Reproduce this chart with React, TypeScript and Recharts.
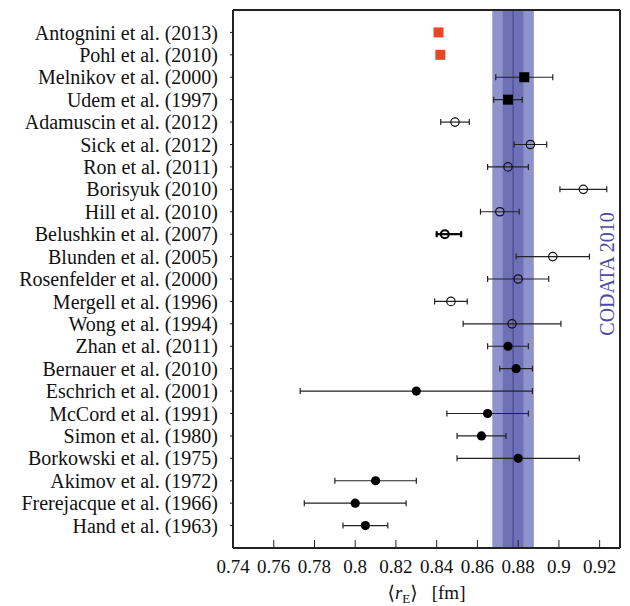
import {
  ScatterChart,
  Scatter,
  XAxis,
  YAxis,
  ErrorBar,
  ReferenceArea,
  ReferenceLine,
  Label,
} from 'recharts'

const FONT = '"Liberation Serif", "DejaVu Serif", serif'

// one row per measurement, top to bottom
const studies = [
  'Antognini et al. (2013)',
  'Pohl et al. (2010)',
  'Melnikov et al. (2000)',
  'Udem et al. (1997)',
  'Adamuscin et al. (2012)',
  'Sick et al. (2012)',
  'Ron et al. (2011)',
  'Borisyuk (2010)',
  'Hill et al. (2010)',
  'Belushkin et al. (2007)',
  'Blunden et al. (2005)',
  'Rosenfelder et al. (2000)',
  'Mergell et al. (1996)',
  'Wong et al. (1994)',
  'Zhan et al. (2011)',
  'Bernauer et al. (2010)',
  'Eschrich et al. (2001)',
  'McCord et al. (1991)',
  'Simon et al. (1980)',
  'Borkowski et al. (1975)',
  'Akimov et al. (1972)',
  'Frerejacque et al. (1966)',
  'Hand et al. (1963)',
]

const radius = [
  0.8409, 0.8418, 0.883, 0.875, 0.849, 0.886, 0.875, 0.912, 0.871, 0.844, 0.897, 0.88,
  0.847, 0.877, 0.875, 0.879, 0.83, 0.865, 0.862, 0.88, 0.81, 0.8, 0.805,
]

const errLow = [
  0, 0, 0.014, 0.007, 0.007, 0.008, 0.01, 0.0115, 0.0095, 0.004, 0.018, 0.015,
  0.008, 0.024, 0.01, 0.008, 0.057, 0.02, 0.012, 0.03, 0.02, 0.025, 0.011,
]

const errHigh = [
  0, 0, 0.014, 0.007, 0.007, 0.008, 0.01, 0.0115, 0.0095, 0.008, 0.018, 0.015,
  0.008, 0.024, 0.01, 0.008, 0.057, 0.02, 0.012, 0.03, 0.02, 0.025, 0.011,
]

// red = muonic hydrogen, square = spectroscopy, open/filled circle = scattering fits
const markerKind = [
  'red', 'red', 'square', 'square', 'open', 'open', 'open', 'open', 'open', 'bold', 'open', 'open',
  'open', 'open', 'filled', 'filled', 'filled', 'filled', 'filled', 'filled', 'filled', 'filled', 'filled',
]

const xTicks = [0.74, 0.76, 0.78, 0.8, 0.82, 0.84, 0.86, 0.88, 0.9, 0.92]
const codataValue = 0.8775
const codataSigma = 0.0051
const codataLabelX = 0.9237

const rows = studies.map((name, i) => ({
  name,
  row: i + 1,
  r: radius[i],
  err: [errLow[i], errHigh[i]],
  kind: markerKind[i],
}))
const rowTicks = rows.map((d) => d.row)
const byKind = (k: string) => rows.filter((d) => d.kind === k)

const RedSquare = (p: any) => (
  <rect x={p.cx - 5} y={p.cy - 5} width={10} height={10} fill="#ee4424" />
)
const BlackSquare = (p: any) => (
  <rect x={p.cx - 5} y={p.cy - 5} width={10} height={10} fill="#000" />
)
const OpenCircle = (p: any) => (
  <circle cx={p.cx} cy={p.cy} r={4.2} fill="none" stroke="#111" strokeWidth={1.2} />
)
const BoldCircle = (p: any) => (
  <circle cx={p.cx} cy={p.cy} r={4} fill="none" stroke="#000" strokeWidth={2} />
)
const FilledCircle = (p: any) => <circle cx={p.cx} cy={p.cy} r={4.6} fill="#000" />

const axisLine = { stroke: '#222', strokeWidth: 2 }

const xTitle = (props: any) => {
  const vb = props.viewBox
  const x = vb.x + vb.width / 2
  return (
    <text x={x} y={599} textAnchor="middle" fontFamily={FONT} fontSize={19} fill="#111">
      <tspan>⟨</tspan>
      <tspan fontStyle="italic">r</tspan>
      <tspan fontSize={13} dy={4}>E</tspan>
      <tspan dy={-4}>⟩</tspan>
      <tspan dx={14}>[fm]</tspan>
    </text>
  )
}

const codataLabel = (props: any) => {
  const vb = props.viewBox
  const x = vb.x
  const y = vb.y + vb.height / 2 - 5
  return (
    <text
      x={x}
      y={y}
      transform={`rotate(-90 ${x} ${y})`}
      textAnchor="middle"
      dominantBaseline="central"
      fontFamily={FONT}
      fontSize={20}
      fill="#4b4ba8"
    >
      CODATA 2010
    </text>
  )
}

export default function App() {
  return (
    <div style={{ position: 'absolute', left: 0, top: 0, width: 630, height: 606, background: '#fff' }}>
      <ScatterChart
        width={630}
        height={606}
        margin={{ top: 9, right: 9, bottom: 0, left: 0 }}
        style={{ fontFamily: FONT }}
      >
        <XAxis
          xAxisId={0}
          type="number"
          dataKey="r"
          domain={[0.74, 0.93]}
          ticks={xTicks}
          interval={0}
          height={58}
          tickSize={-8}
          tickMargin={20}
          axisLine={axisLine}
          tickLine={{ stroke: '#222' }}
          tickFormatter={(v: number) => String(parseFloat(v.toFixed(2)))}
          tick={{ fontSize: 19, fill: '#111', fontFamily: FONT }}
        >
          <Label content={xTitle} />
        </XAxis>
        <XAxis
          xAxisId="top"
          orientation="top"
          type="number"
          domain={[0.74, 0.93]}
          ticks={xTicks}
          interval={0}
          height={1}
          tickSize={-8}
          tick={false}
          axisLine={axisLine}
          tickLine={{ stroke: '#222' }}
        />
        <YAxis
          yAxisId={0}
          type="number"
          dataKey="row"
          domain={[0, 24]}
          reversed
          ticks={rowTicks}
          interval={0}
          width={233}
          tickSize={3}
          tickMargin={12}
          axisLine={axisLine}
          tickLine={{ stroke: '#222' }}
          tickFormatter={(v: number) => studies[v - 1] ?? ''}
          tick={{ fontSize: 20, fill: '#111', fontFamily: FONT }}
        />
        <YAxis
          yAxisId="right"
          orientation="right"
          type="number"
          domain={[0, 24]}
          reversed
          width={1}
          tick={false}
          tickLine={false}
          axisLine={axisLine}
        />

        <ReferenceArea
          x1={codataValue - 2 * codataSigma}
          x2={codataValue + 2 * codataSigma}
          fill="#8f93cb"
          fillOpacity={1}
          stroke="none"
        />
        <ReferenceArea
          x1={codataValue - codataSigma}
          x2={codataValue + codataSigma}
          fill="#6e71b5"
          fillOpacity={1}
          stroke="none"
        />
        <ReferenceLine x={codataValue} stroke="#3e4194" strokeWidth={1} />
        <ReferenceLine x={codataLabelX} stroke="none">
          <Label content={codataLabel} />
        </ReferenceLine>

        <Scatter data={byKind('red')} shape={RedSquare} isAnimationActive={false} />
        <Scatter data={byKind('square')} shape={BlackSquare} isAnimationActive={false}>
          <ErrorBar dataKey="err" direction="x" width={3} stroke="#222" strokeWidth={1.2} />
        </Scatter>
        <Scatter data={byKind('open')} shape={OpenCircle} isAnimationActive={false}>
          <ErrorBar dataKey="err" direction="x" width={3} stroke="#222" strokeWidth={1.2} />
        </Scatter>
        <Scatter data={byKind('bold')} shape={BoldCircle} isAnimationActive={false}>
          <ErrorBar dataKey="err" direction="x" width={3} stroke="#000" strokeWidth={2.2} />
        </Scatter>
        <Scatter data={byKind('filled')} shape={FilledCircle} isAnimationActive={false}>
          <ErrorBar dataKey="err" direction="x" width={3} stroke="#222" strokeWidth={1.2} />
        </Scatter>
      </ScatterChart>
    </div>
  )
}
